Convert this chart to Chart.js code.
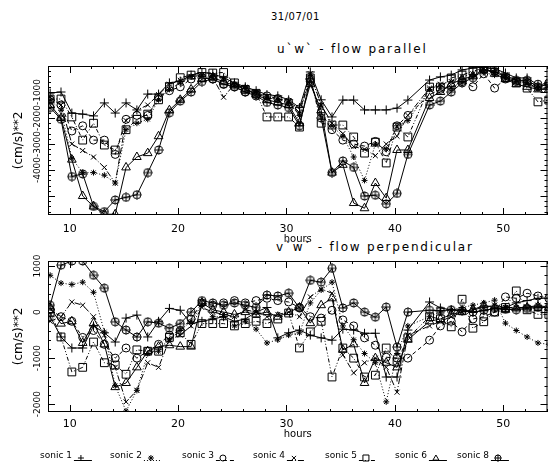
<!DOCTYPE html>
<html>
<head>
<meta charset="utf-8">
<script src="https://cdn.jsdelivr.net/npm/chart.js@4.4.1/dist/chart.umd.min.js"></script>
<style>
  body { margin: 0; background: #fff; width: 554px; height: 468px; overflow: hidden; position: relative; font-family: "DejaVu Sans", sans-serif; }
  canvas { position: absolute; left: 0; }
  #top { top: 0; }
  #bot { top: 245px; }
  .t { position: absolute; white-space: nowrap; color: #000; font-size: 10px; }
  .sub { font-size: 12px; letter-spacing: 1.8px; }
</style>
</head>
<body>
<div class="t" style="left:271px;top:11px;letter-spacing:0.5px">31/07/01</div>
<div class="t sub" style="left:277px;top:42px">u`w` - flow parallel</div>
<div class="t sub" style="left:276px;top:240px">v`w` - flow perpendicular</div>
<canvas id="top" width="554" height="245"></canvas>
<canvas id="bot" width="554" height="223"></canvas>
<script>
// hours of each sample
const hours = [8.2, 9.2, 10.2, 11.2, 12.2, 13.2, 14.2, 15.2, 16.2, 17.2, 18.2, 19.2, 20.2, 21.2, 22.2, 23.2,
  24.2, 25.2, 26.2, 27.2, 28.2, 29.2, 30.2, 31.2, 32.2, 33.2, 34.2, 35.2, 36.2, 37.2, 38.2, 39.2,
  40.2, 41.2, 42.2, 43.2, 44.2, 45.2, 46.2, 47.2, 48.2, 49.2, 50.2, 51.2, 52.2, 53.2, 54.2];
const xTicks = [10, 20, 30, 40, 50];
const sonicNames = ['sonic 1', 'sonic 2', 'sonic 3', 'sonic 4', 'sonic 5', 'sonic 6', 'sonic 8'];

// u'w' - flow parallel
const uw1 = [-1040, -1000, -1810, -1850, -1920, -1420, -1810, -1420, -1690, -1080, -1080, -650, -580, -350,
  -250, -300, -450, -650, -800, -950, -1100, -1150, -1300, -1600, -230, -1300, -1960,
  -1310, -1310, -1690, -1690, -1690, -1620, -1310, null,
  -540, -420, -350, -150, -80, -40, -100, -270, -460, -460, -730, -730];
const uw2 = [-1300, -1700, -3550, -4100, -4100, -4200, -4500, -2450, -2200, -2050, -1300, -900, -650, -400,
  -350, -350, -500, -700, -800, -1000, -1200, -1300, -1400, -1900, -350, -1500, -2300,
  -2700, -3500, -4400, -3000, -3200, -2300, -2100, null,
  -900, -800, -850, -600, -400, -250, -350, -450, -600, -700, -850, -800];
const uw3 = [-1300, -1500, -2500, -2300, -2850, -2850, -3400, -2050, -1900, -1900, -1200, -950, -800, -500,
  -450, -500, -700, -800, -1000, -1100, -1150, -1250, -1380, -1650, -600, -1800, -2450,
  -2850, -3000, -3080, -2900, -3300, -2300, -1900, null,
  -1100, -900, -800, -600, -800, -300, -850, -500, -600, -650, -700, -650];
const uw4 = [-1200, -1500, -3000, -3250, -3500, -3900, -4500, -2100, -1700, -1500, -1100, -700, -550, -400,
  -400, -450, -1200, -700, -900, -1050, -1250, -1250, -1350, -1800, -300, -1500, -2200,
  -2600, -3100, -3200, -3450, -3000, -2700, -1900, null,
  -850, -700, -600, -400, -300, -100, -250, -350, -550, -600, -900, -850];
const uw5 = [-1270, -1270, -1960, -2850, -2200, -3040, -3230, -2450, -2050, -1850, -1300, -800, -450, -350,
  -250, -270, -250, -650, -900, -1050, -1960, -1960, -1960, -2350, -460, -2200, -2270,
  -2270, -2730, -3350, -2930, -3730, -2350, -2730, null,
  -810, -810, -460, -350, -200, -80, -100, -460, -650, -850, -1380, -1310];
const uw6 = [-1500, -2000, -3600, -5000, -5400, -5700, -5700, -3900, -3500, -3350, -2700, -1700, -1300, -900,
  -500, -450, -600, -750, -900, -1100, -1300, -1400, -1500, -2200, -700, -1700, -4100,
  -3800, -5270, -5470, -4500, -5080, -3230, -3230, null,
  -1230, -1000, -700, -500, -400, -100, -300, -500, -700, -800, -900, -900];
const uw8 = [-1600, -2050, -4250, -4150, -5400, -5600, -5150, -5050, -4950, -4100, -3230, -1800, -1350, -1000,
  -600, -500, -700, -800, -1000, -1150, -1400, -1500, -1600, -2300, -500, -2000, -4100,
  -3650, -3900, -5000, -4970, -5300, -4900, -3400, null,
  -1500, -1350, -1000, -650, -450, -150, -200, -450, -550, -550, -800, -700];

// v'w' - flow perpendicular
const vw1 = [-100, -540, -780, -780, -300, -450, -650, -130, -65, -540, -200, 80, 40,
  -250, -200, -150, -100, -200, -150, 0, 100,
  -560, -450, -390, -500, -560, -610, -370, -390, -460, -460, -1410, -1410, -390, null,
  220, 90, 50, 50, 0, 30, 80, 100, 200, 250, 300, 300];
const vw2 = [800, 630, 600, 650, 430, -430, -1600, -2150, -1700, -900, -850, -600, -400,
  -200, 150, -100, -100, -300, -200, -370, -670,
  -600, -500, -450, 200, 480, 650, -300, -600, -900, -1100, -1950, -900, -300, null,
  -100, 0, 50, 100, 150, 200, 260, -240, -400, -540, -670, -700];
const vw3 = [50, -100, -200, -550, -400, -700, -1000, -780, -1000, -850, -700, -500, -400,
  -150, 200, 150, 200, 250, 200, 250, 300,
  250, 220, 100, -100, -130, 40, -170, -300, -560, -720, -980, -1000, -1000, null,
  -610, -300, -200, -430, -150, -100, 0, 330, 300, 410, 350, 300];
const vw4 = [-200, -100, 220, 150, -100, -500, -1200, -1950, -1700, -1100, -1200, -600, -500,
  -300, 100, 0, -50, -100, 50, 0, -100,
  -50, 0, -100, 330, 500, 410, -930, -1320, -1100, -1000, -1200, -1740, -500, null,
  -300, -200, -100, 0, 50, 100, 150, 100, 100, 100, 150, 100];
const vw5 = [0, -540, -1300, -1200, -650, -1100, -1150, -1350, -820, -850, -850, -550, -450,
  -700, -250, -250, -250, -300, -250, -200, -250,
  -150, -20, -780, -430, -200, -1410, -780, -1000, -1410, -1370, -780, -1085, -560, null,
  -100, -150, -320, 280, -350, -210, 0, 100, 460, 50, -50, -50];
const vw6 = [100, -250, -200, -670, -240, -700, -1630, -1540, -1200, -850, -750, -720, -750,
  -750, 200, 50, 0, -50, 0, -50, 0,
  -100, 0, 100, -240, 150, 300, -820, -700, -1540, -1000, -1100, -1200, -600, null,
  -200, -150, -50, 0, 50, 150, 100, 50, 80, 100, 120, 100];
const vw8 = [150, 1020, 1110, 1110, 800, 520, -210, -390, -540, -210, -240, -350, -250,
  0, 250, 200, 150, 200, 150, 100, 370,
  350, 410, 90, 690, 650, 950, 90, 200, 0, -110, 110, -760, 0, null,
  40, 30, 50, 20, 0, 40, 80, 60, 50, 80, 100, 100];

const uwLabels = [-4000, -3000, -2000, -1000];
const vwLabels = [-2000, -1000, 0, 1000];

// circle with a plus inside, for sonic 8
function circlePlus(size) {
  const c = document.createElement('canvas');
  c.width = size; c.height = size;
  const g = c.getContext('2d');
  const m = size / 2;
  g.strokeStyle = '#000';
  g.lineWidth = 1;
  g.beginPath();
  g.arc(m, m, m - 1, 0, 2 * Math.PI);
  g.moveTo(0.5, m); g.lineTo(size - 0.5, m);
  g.moveTo(m, 0.5); g.lineTo(m, size - 0.5);
  g.stroke();
  return c;
}

const marks = [
  {style: 'cross', r: 4.5, dash: []},
  {style: 'star', r: 3, dash: [1, 2]},
  {style: 'circle', r: 4, dash: [4, 3]},
  {style: 'crossRot', r: 3.5, dash: [6, 2, 1, 2]},
  {style: 'rect', r: 5.5, dash: [4, 2, 1, 2, 1, 2]},
  {style: 'triangle', r: 5, dash: []},
  {style: circlePlus(10), r: 5, dash: []}
];
const legendMark = circlePlus(8);

function makeSets(series) {
  return series.map((vals, k) => ({
    label: sonicNames[k],
    data: vals.map((v, i) => ({x: hours[i], y: v})),
    borderColor: '#000',
    borderWidth: 1,
    borderDash: marks[k].dash,
    pointStyle: marks[k].style,
    pointRadius: marks[k].r,
    pointBorderColor: '#000',
    pointBackgroundColor: 'rgba(0,0,0,0)',
    pointBorderWidth: 1,
    spanGaps: true,
    tension: 0,
    fill: false
  }));
}

// box, inward ticks and rotated y labels (IDL style)
const framePlugin = {
  id: 'frame',
  afterDraw(chart, args, opts) {
    const {ctx, chartArea: a, scales: {x, y}} = chart;
    ctx.save();
    ctx.strokeStyle = '#000';
    ctx.lineWidth = 1;
    ctx.setLineDash([]);
    ctx.strokeRect(a.left + 0.5, a.top + 0.5, a.right - a.left - 1, a.bottom - a.top - 1);
    ctx.beginPath();
    for (let h = 10; h <= 54; h += 2) {
      const px = Math.round(x.getPixelForValue(h)) + 0.5;
      const len = h % 10 === 0 ? 7 : 3;
      ctx.moveTo(px, a.bottom); ctx.lineTo(px, a.bottom - len);
      ctx.moveTo(px, a.top); ctx.lineTo(px, a.top + len);
    }
    for (let v = Math.ceil(y.min / 200) * 200; v <= y.max; v += 200) {
      const py = Math.round(y.getPixelForValue(v)) + 0.5;
      const len = v % 1000 === 0 ? 7 : 3;
      ctx.moveTo(a.left, py); ctx.lineTo(a.left + len, py);
      ctx.moveTo(a.right, py); ctx.lineTo(a.right - len, py);
    }
    ctx.stroke();
    ctx.fillStyle = '#000';
    ctx.font = '9px "DejaVu Sans"';
    ctx.textAlign = 'center';
    ctx.textBaseline = 'middle';
    opts.labels.forEach(v => {
      ctx.save();
      ctx.translate(38, y.getPixelForValue(v));
      ctx.rotate(-Math.PI / 2);
      ctx.fillText(String(v), 0, 0);
      ctx.restore();
    });
    ctx.restore();
  }
};

function drawMark(ctx, k, x, y, r) {
  const s = marks[k].style;
  ctx.beginPath();
  if (s === 'cross' || s === 'star') {
    ctx.moveTo(x - r, y); ctx.lineTo(x + r, y);
    ctx.moveTo(x, y - r); ctx.lineTo(x, y + r);
  }
  if (s === 'crossRot' || s === 'star') {
    const d = r * 0.7;
    ctx.moveTo(x - d, y - d); ctx.lineTo(x + d, y + d);
    ctx.moveTo(x - d, y + d); ctx.lineTo(x + d, y - d);
  }
  if (s === 'circle') ctx.arc(x, y, r, 0, 2 * Math.PI);
  if (s === 'rect') ctx.rect(x - r, y - r, 2 * r, 2 * r);
  if (s === 'triangle') {
    ctx.moveTo(x, y - r); ctx.lineTo(x + r, y + r * 0.7); ctx.lineTo(x - r, y + r * 0.7); ctx.closePath();
  }
  ctx.stroke();
  if (typeof s !== 'string') ctx.drawImage(legendMark, x - 4, y - 4);
}

const legendPlugin = {
  id: 'sonicLegend',
  afterDraw(chart) {
    const ctx = chart.ctx;
    const lx = [40, 110, 182, 253, 325, 395, 457];
    const ly = 211;
    ctx.save();
    ctx.font = '9px "DejaVu Sans"';
    ctx.fillStyle = '#000';
    ctx.strokeStyle = '#000';
    ctx.lineWidth = 1;
    ctx.textBaseline = 'middle';
    sonicNames.forEach((name, k) => {
      ctx.fillText(name, lx[k], ly);
      const tx = lx[k] + ctx.measureText(name).width + 2;
      ctx.setLineDash(marks[k].dash);
      ctx.beginPath();
      ctx.moveTo(tx, ly + 4.5); ctx.lineTo(tx + 18, ly + 4.5);
      ctx.stroke();
      ctx.setLineDash([]);
      drawMark(ctx, k, tx + 7, ly + 2, 3);
    });
    ctx.restore();
  }
};

function makeChart(id, series, yMin, yMax, yLabels, pad, xHeight, tickPad, extra) {
  return new Chart(document.getElementById(id), {
    type: 'line',
    data: {datasets: makeSets(series)},
    options: {
      responsive: false,
      animation: false,
      devicePixelRatio: 1,
      layout: {padding: pad},
      plugins: {
        legend: {display: false},
        tooltip: {enabled: false},
        frame: {labels: yLabels}
      },
      scales: {
        x: {
          type: 'linear',
          min: 8,
          max: 54.08,
          afterBuildTicks: s => { s.ticks = xTicks.map(v => ({value: v})); },
          afterFit: s => { s.height = xHeight; },
          grid: {display: false, drawTicks: false},
          border: {display: false},
          ticks: {font: {family: 'DejaVu Sans', size: 11}, color: '#000', padding: tickPad, maxRotation: 0},
          title: {display: true, text: 'hours', font: {family: 'DejaVu Sans', size: 10}, color: '#000', padding: 0}
        },
        y: {
          type: 'linear',
          min: yMin,
          max: yMax,
          afterFit: s => { s.width = 48; },
          ticks: {display: false},
          grid: {display: false},
          border: {display: false},
          title: {display: true, text: '(cm/s)**2', font: {family: 'DejaVu Sans', size: 12}, color: '#000', padding: {top: 12, bottom: 0}}
        }
      }
    },
    plugins: [framePlugin].concat(extra)
  });
}

makeChart('top', [uw1, uw2, uw3, uw4, uw5, uw6, uw8], -5730, 0, uwLabels,
  {top: 66, right: 1, bottom: 0, left: 0}, 30, 8, []);
makeChart('bot', [vw1, vw2, vw3, vw4, vw5, vw6, vw8], -2170, 1110, vwLabels,
  {top: 16, right: 1, bottom: 28, left: 0}, 28, 6, [legendPlugin]);
</script>
</body>
</html>
